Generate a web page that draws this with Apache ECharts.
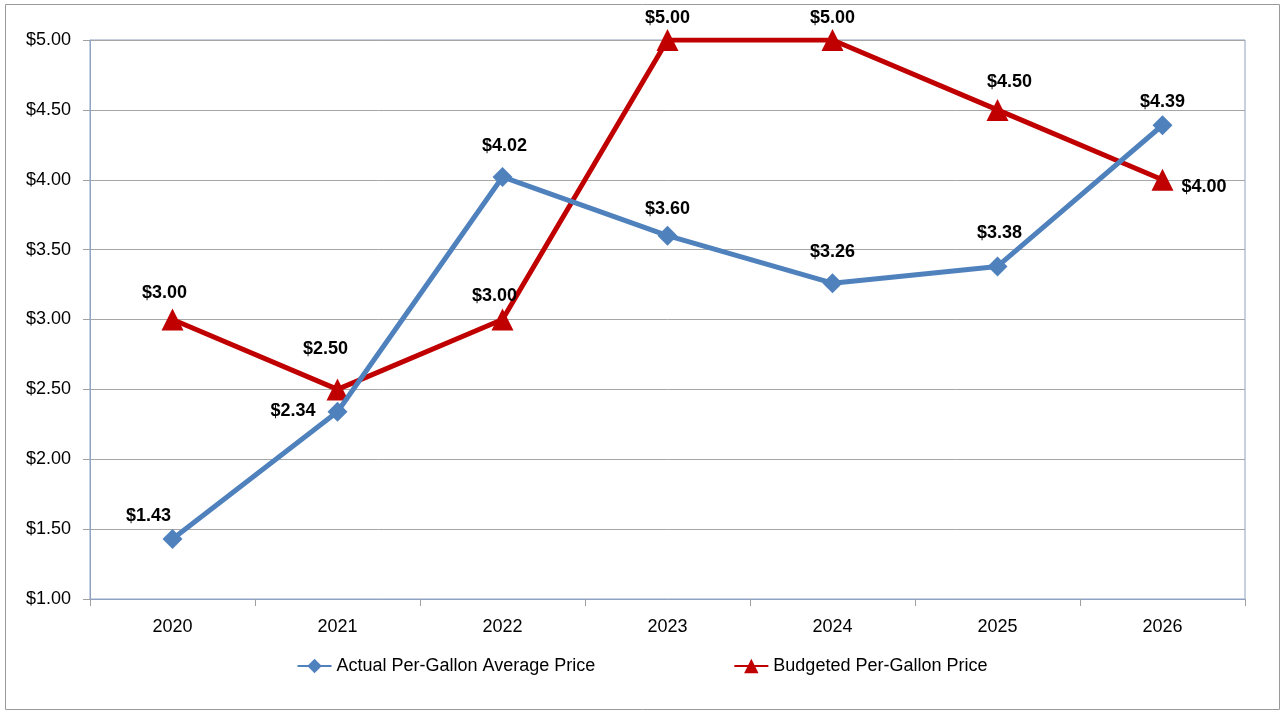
<!DOCTYPE html>
<html><head><meta charset="utf-8">
<script src="https://cdn.jsdelivr.net/npm/echarts@6/dist/echarts.min.js"></script>
<style>html,body{margin:0;padding:0;background:#fff}#c{width:1284px;height:713px}</style>
</head><body><div id="c"></div>
<script>
const categories = ['2020','2021','2022','2023','2024','2025','2026'];
const actualPrice = [1.43, 2.34, 4.02, 3.60, 3.26, 3.38, 4.39];
const budgetPrice = [3.00, 2.50, 3.00, 5.00, 5.00, 4.50, 4.00];
const seriesNames = ['Actual Per-Gallon Average Price', 'Budgeted Per-Gallon Price'];

const FONT = 'Liberation Sans';
const money = v => '$' + Number(v).toFixed(2);

const actualLabelCfg = [
  {position:'top', offset:[-24,8]},
  {position:'left', offset:[0,-1]},
  {position:'top', offset:[2,0]},
  {position:'top', offset:[0,4]},
  {position:'top', offset:[0,0]},
  {position:'top', offset:[2,-2]},
  {position:'top', offset:[0,8]}
];
const budgetLabelCfg = [
  {position:'top', offset:[-8,4]},
  {position:'top', offset:[-12,-10]},
  {position:'top', offset:[-8,7]},
  {position:'top', offset:[0,8]},
  {position:'top', offset:[0,8]},
  {position:'top', offset:[12,2]},
  {position:'right', offset:[-2,7]}
];

const chart = echarts.init(document.getElementById('c'));
chart.setOption({
  animation:false,
  textStyle:{fontFamily:FONT},
  graphic:[{type:'rect', shape:{x:5.5,y:4.5,width:1274,height:705}, style:{fill:null, stroke:'#9a9a9a', lineWidth:1}, silent:true}],
  grid:{left:90, right:39, top:40, bottom:114, show:true, borderColor:'#8ea2c4', borderWidth:1},
  legend:{
    bottom:33, left:'center', itemGap:138, itemWidth:34, itemHeight:18,
    textStyle:{fontSize:18, color:'#000', fontFamily:FONT},
    data:seriesNames
  },
  xAxis:{
    type:'category', data:categories, boundaryGap:true,
    axisLine:{lineStyle:{color:'#8ea2c4'}},
    axisTick:{show:true, length:7, lineStyle:{color:'#a0a0a0'}},
    axisLabel:{fontSize:18, color:'#000', margin:19, fontFamily:FONT}
  },
  yAxis:{
    type:'value', min:1, max:5, interval:0.5,
    axisLine:{show:true, lineStyle:{color:'#8ea2c4'}},
    axisTick:{show:true, length:7, lineStyle:{color:'#a0a0a0'}},
    splitLine:{lineStyle:{color:'#a6a6a6'}},
    axisLabel:{fontSize:18, color:'#000', margin:19, formatter:money, fontFamily:FONT}
  },
  series:[
    {
      name:seriesNames[0], type:'line', data:actualPrice.map((v,i)=>({value:v, label:actualLabelCfg[i]})),
      symbol:'diamond', symbolSize:20, z:3,
      lineStyle:{color:'#4f81bd', width:5},
      itemStyle:{color:'#4f81bd'},
      label:{show:true, fontSize:18, fontWeight:'bold', color:'#000', distance:12, formatter:p=>money(p.value), fontFamily:FONT}
    },
    {
      name:seriesNames[1], type:'line', data:budgetPrice.map((v,i)=>({value:v, label:budgetLabelCfg[i]})),
      symbol:'triangle', symbolSize:22, z:2,
      lineStyle:{color:'#c00000', width:5},
      itemStyle:{color:'#c00000'},
      label:{show:true, fontSize:18, fontWeight:'bold', color:'#000', distance:10, formatter:p=>money(p.value), fontFamily:FONT}
    }
  ]
});
</script></body></html>
